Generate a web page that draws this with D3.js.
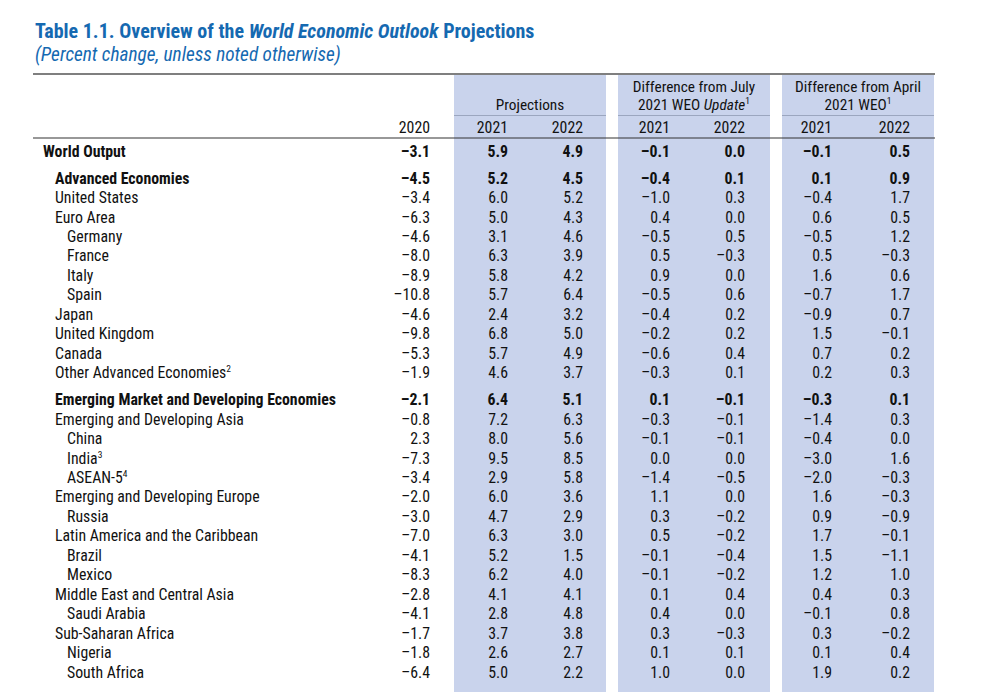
<!DOCTYPE html>
<html>
<head>
<meta charset="utf-8">
<script src="https://cdn.jsdelivr.net/npm/d3@7"></script>
<style>
  html, body { margin: 0; padding: 0; background: #fff; }
  svg text { font-family: "Liberation Sans Narrow", "Arial Narrow", "Roboto Condensed", sans-serif; font-stretch: condensed; }
</style>
</head>
<body>
<svg id="chart" width="999" height="692"></svg>
<script>
// ---------- DATA ----------
const rowLabels = [
  "World Output",
  "Advanced Economies", "United States", "Euro Area", "Germany", "France", "Italy", "Spain",
  "Japan", "United Kingdom", "Canada", "Other Advanced Economies",
  "Emerging Market and Developing Economies", "Emerging and Developing Asia", "China", "India",
  "ASEAN-5", "Emerging and Developing Europe", "Russia", "Latin America and the Caribbean",
  "Brazil", "Mexico", "Middle East and Central Asia", "Saudi Arabia", "Sub-Saharan Africa",
  "Nigeria", "South Africa"
];
const rowFootnotes = ["", "", "", "", "", "", "", "", "", "", "", "2", "", "", "", "3", "4", "", "", "", "", "", "", "", "", "", ""];
const rowLevels = [0, 1, 1, 1, 2, 2, 2, 2, 1, 1, 1, 1, 1, 1, 2, 2, 2, 1, 2, 1, 2, 2, 1, 2, 1, 2, 2];
const rowBold = [1, 1, 0, 0, 0, 0, 0, 0, 0, 0, 0, 0, 1, 0, 0, 0, 0, 0, 0, 0, 0, 0, 0, 0, 0, 0, 0];

const columnYears = ["2020", "2021", "2022", "2021", "2022", "2021", "2022"];
const groupTitles = [
  ["Projections"],
  ["Difference from July", "2021 WEO |Update|¹"],
  ["Difference from April", "2021 WEO¹"]
];

const values2020 = [-3.1, -4.5, -3.4, -6.3, -4.6, -8.0, -8.9, -10.8, -4.6, -9.8, -5.3, -1.9, -2.1, -0.8, 2.3, -7.3, -3.4, -2.0, -3.0, -7.0, -4.1, -8.3, -2.8, -4.1, -1.7, -1.8, -6.4];
const proj2021   = [5.9, 5.2, 6.0, 5.0, 3.1, 6.3, 5.8, 5.7, 2.4, 6.8, 5.7, 4.6, 6.4, 7.2, 8.0, 9.5, 2.9, 6.0, 4.7, 6.3, 5.2, 6.2, 4.1, 2.8, 3.7, 2.6, 5.0];
const proj2022   = [4.9, 4.5, 5.2, 4.3, 4.6, 3.9, 4.2, 6.4, 3.2, 5.0, 4.9, 3.7, 5.1, 6.3, 5.6, 8.5, 5.8, 3.6, 2.9, 3.0, 1.5, 4.0, 4.1, 4.8, 3.8, 2.7, 2.2];
const julDiff2021 = [-0.1, -0.4, -1.0, 0.4, -0.5, 0.5, 0.9, -0.5, -0.4, -0.2, -0.6, -0.3, 0.1, -0.3, -0.1, 0.0, -1.4, 1.1, 0.3, 0.5, -0.1, -0.1, 0.1, 0.4, 0.3, 0.1, 1.0];
const julDiff2022 = [0.0, 0.1, 0.3, 0.0, 0.5, -0.3, 0.0, 0.6, 0.2, 0.2, 0.4, 0.1, -0.1, -0.1, -0.1, 0.0, -0.5, 0.0, -0.2, -0.2, -0.4, -0.2, 0.4, 0.0, -0.3, 0.1, 0.0];
const aprDiff2021 = [-0.1, 0.1, -0.4, 0.6, -0.5, 0.5, 1.6, -0.7, -0.9, 1.5, 0.7, 0.2, -0.3, -1.4, -0.4, -3.0, -2.0, 1.6, 0.9, 1.7, 1.5, 1.2, 0.4, -0.1, 0.3, 0.1, 1.9];
const aprDiff2022 = [0.5, 0.9, 1.7, 0.5, 1.2, -0.3, 0.6, 1.7, 0.7, -0.1, 0.2, 0.3, 0.1, 0.3, 0.0, 1.6, -0.3, -0.3, -0.9, -0.1, -1.1, 1.0, 0.3, 0.8, -0.2, 0.4, 0.2];
const seriesColumns = [values2020, proj2021, proj2022, julDiff2021, julDiff2022, aprDiff2021, aprDiff2022];

// ---------- LAYOUT ----------
const svg = d3.select("#chart");
const W = 999, H = 692;
const blue = "#1569b1";
const band = "#c9d3ec";
const ink = "#111";
const fs = 15.8;
const hfs = 15.3;

const left = 33, right = 935;
const colX = d3.scaleOrdinal().domain(d3.range(7)).range([430, 508, 583, 670, 745, 832, 910]);
const bandX = d3.scaleOrdinal().domain([0, 1, 2]).range([[454, 606], [618, 770], [782, 934]]);
const indentX = d3.scaleOrdinal().domain([0, 1, 2]).range([43, 55, 67]);

const slots = [];
let s = 0;
rowLabels.forEach((d, i) => {
  if (i > 0 && rowBold[i]) s += 0.38;
  slots.push(s);
  s += 1;
});
const y = d3.scaleLinear().domain([0, 1]).range([151, 170.47]);

for (let b = 0; b < 3; b++) {
  const [x0, x1] = bandX(b);
  svg.append("rect").attr("x", x0).attr("y", 75).attr("width", x1 - x0).attr("height", H - 75).attr("fill", band);
  svg.append("line").attr("x1", x0).attr("x2", x1).attr("y1", 115.5).attr("y2", 115.5)
    .attr("stroke", "#8f9ab4").attr("stroke-width", 0.8);
}

svg.append("line").attr("x1", left).attr("x2", right).attr("y1", 74).attr("y2", 74).attr("stroke", "#555").attr("stroke-width", 1.5);
svg.append("line").attr("x1", left).attr("x2", right).attr("y1", 138).attr("y2", 138).attr("stroke", "#333").attr("stroke-width", 1.2);

const title = svg.append("text").attr("x", 35).attr("y", 38).attr("fill", blue)
  .attr("font-size", 20).attr("font-weight", "bold");
title.append("tspan").text("Table 1.1. Overview of the ");
title.append("tspan").attr("font-style", "italic").text("World Economic Outlook");
title.append("tspan").text(" Projections");
svg.append("text").attr("x", 35).attr("y", 61).attr("fill", blue).attr("font-size", 19.3)
  .attr("font-style", "italic").text("(Percent change, unless noted otherwise)");

function richText(sel, str) {
  str.split("|").forEach((part, k) => {
    const m = part.match(/^(.*?)(¹?)$/);
    const t = sel.append("tspan").text(m[1]);
    if (k % 2 === 1) t.attr("font-style", "italic");
    if (m[2]) sel.append("tspan").attr("font-size", 9.5).attr("dy", -6).text("1");
  });
}
groupTitles.forEach((lines, b) => {
  const [x0, x1] = bandX(b);
  const cx = (x0 + x1) / 2;
  lines.forEach((ln, k) => {
    const yy = lines.length === 1 ? 110 : (k === 0 ? 91.5 : 110);
    const t = svg.append("text").attr("x", cx).attr("y", yy).attr("text-anchor", "middle")
      .attr("font-size", hfs).attr("fill", ink);
    richText(t, ln);
  });
});

svg.selectAll("text.year").data(columnYears).join("text").attr("class", "year")
  .attr("x", (d, i) => colX(i)).attr("y", 133).attr("text-anchor", "end")
  .attr("font-size", fs).attr("fill", ink).text(d => d);

const fmt = v => (v < 0 ? "\u2013" : "") + Math.abs(v).toFixed(1);
const rows = svg.selectAll("g.row").data(rowLabels).join("g").attr("class", "row")
  .attr("transform", (d, i) => `translate(0,${y(slots[i])})`);

rows.append("text")
  .attr("x", (d, i) => indentX(rowLevels[i]))
  .attr("dy", "0.36em")
  .attr("font-size", fs)
  .attr("font-weight", (d, i) => rowBold[i] ? "bold" : "normal")
  .attr("fill", ink)
  .each(function (d, i) {
    const t = d3.select(this);
    t.append("tspan").text(d);
    if (rowFootnotes[i]) t.append("tspan").attr("font-size", 9.5).attr("dy", -6).text(rowFootnotes[i]);
  });

seriesColumns.forEach((col, c) => {
  rows.append("text")
    .attr("x", colX(c))
    .attr("dy", "0.36em")
    .attr("text-anchor", "end")
    .attr("font-size", fs)
    .attr("font-weight", (d, i) => rowBold[i] ? "bold" : "normal")
    .attr("fill", ink)
    .text((d, i) => fmt(col[i]));
});
</script>
</body>
</html>
